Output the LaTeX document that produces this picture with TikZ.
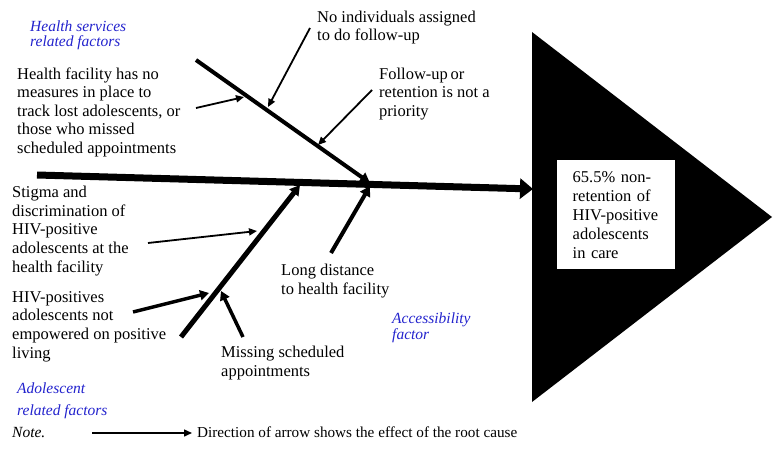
\documentclass[tikz,border=0pt]{standalone}
\usepackage{fontspec}
\setmainfont{Liberation Serif}
\usetikzlibrary{arrows.meta}
\definecolor{groupblue}{RGB}{35,35,205}

\begin{document}
\begin{tikzpicture}[x=1pt,y=-1pt,
                        spine/.style={line width=7,-{Triangle[length=13pt,width=20pt]}},
                        bone/.style={line width=4,-{Triangle[length=10pt,width=11pt]}},
                        thick cause/.style={line width=3.5,-{Triangle[length=9pt,width=10pt]}},
                        thin cause/.style={line width=1.8,-{Triangle[length=8pt,width=7pt]}},
                        cause/.style={anchor=base west,align=left,inner sep=0,font=\fontsize{16.5}{18.6}\selectfont},
                        group/.style={anchor=base west,align=left,inner sep=0,text=groupblue,font=\fontsize{15.5}{15.2}\selectfont\itshape}
                        ]
                        \useasboundingbox (0,0) rectangle (781,449);

                        % effect (head of the fish)
                        \coordinate (top) at (532,32);
                        \coordinate (tip) at (772,217);
                        \coordinate (bottom) at (532,402);
                        \fill (top) -- (tip) -- (bottom) -- cycle;
                        \node[fill=white,anchor=north west,minimum height=109,text width=87,inner xsep=15.5,align=left,
                              font=\fontsize{16.5}{19}\selectfont] (effect) at (557,160)
                              {65.5\% non-\\retention of\\HIV-positive\\adolescents\\in care};

                        % spine and bones
                        \coordinate (tail) at (37,175);
                        \coordinate (head) at (533,189);
                        \coordinate (hsStart) at (196,60);
                        \coordinate (hsEnd) at (370,183);
                        \coordinate (adStart) at (181,337);
                        \coordinate (adEnd) at (300,185);
                        \coordinate (acStart) at (331,253);
                        \coordinate (acEnd) at (370,186);
                        \draw[spine] (tail) -- (head);
                        \draw[bone] (hsStart) -- (hsEnd);
                        \draw[bone,line width=5] (adStart) -- (adEnd);
                        \draw[bone] (acStart) -- (acEnd);

                        % causes (placed at the baseline of their last line)
                        \node[group] (hsGroup) at (30,47) {Health services\\related factors};
                        \node[cause] (noMeasures) at (17,153.5) {Health facility has no\\measures in place to\\track lost adolescents, or\\those who missed\\scheduled appointments};
                        \node[cause] (noStaff) at (317,41) {No individuals assigned\\to do follow-up};
                        \node[cause] (noPriority) at (379,116.5) {Follow-up\,or\\retention is not a\\priority};
                        \node[cause] (stigma) at (12,272) {Stigma and\\discrimination of\\HIV-positive\\adolescents at the\\health facility};
                        \node[cause] (notEmpowered) at (12,358) {HIV-positives\\adolescents not\\empowered on positive\\living};
                        \node[cause] (distance) at (281,294.5) {Long distance\\to health facility};
                        \node[cause] (missing) at (221,376) {Missing scheduled\\appointments};
                        \node[group] (acGroup) at (392,339) {Accessibility\\factor};
                        \node[group,font=\fontsize{15.5}{22}\selectfont\itshape] (adGroup) at (17,415) {Adolescent\\related factors};

                        \coordinate (noMeasuresOut) at (196,108);
                        \coordinate (noMeasuresIn) at (244,97);
                        \coordinate (noStaffOut) at (310,28);
                        \coordinate (noStaffIn) at (268,107);
                        \coordinate (noPriorityOut) at (372,90);
                        \coordinate (noPriorityIn) at (318,145);
                        \coordinate (stigmaOut) at (148,243);
                        \coordinate (stigmaIn) at (257,231);
                        \coordinate (notEmpoweredOut) at (133,312);
                        \coordinate (notEmpoweredIn) at (209,293);
                        \coordinate (missingOut) at (243,337);
                        \coordinate (missingIn) at (221,291);
                        \draw[thin cause] (noMeasuresOut) -- (noMeasuresIn);
                        \draw[thin cause] (noStaffOut) -- (noStaffIn);
                        \draw[thin cause] (noPriorityOut) -- (noPriorityIn);
                        \draw[thin cause] (stigmaOut) -- (stigmaIn);
                        \draw[thick cause] (notEmpoweredOut) -- (notEmpoweredIn);
                        \draw[thick cause] (missingOut) -- (missingIn);

                        % legend
                        \node[cause,font=\fontsize{15.5}{18}\selectfont\itshape] (note) at (12,437) {Note.};
                        \node[cause,font=\fontsize{15.2}{18}\selectfont] (legendText) at (197,437) {Direction of arrow shows the effect of the root cause};
                        \coordinate (legendStart) at (92,433);
                        \draw[line width=1.5,-{Triangle[length=8pt,width=7pt]}] (legendStart) -- ([xshift=-5]legendText.west |- legendStart);
                    \end{tikzpicture}
\end{document}
